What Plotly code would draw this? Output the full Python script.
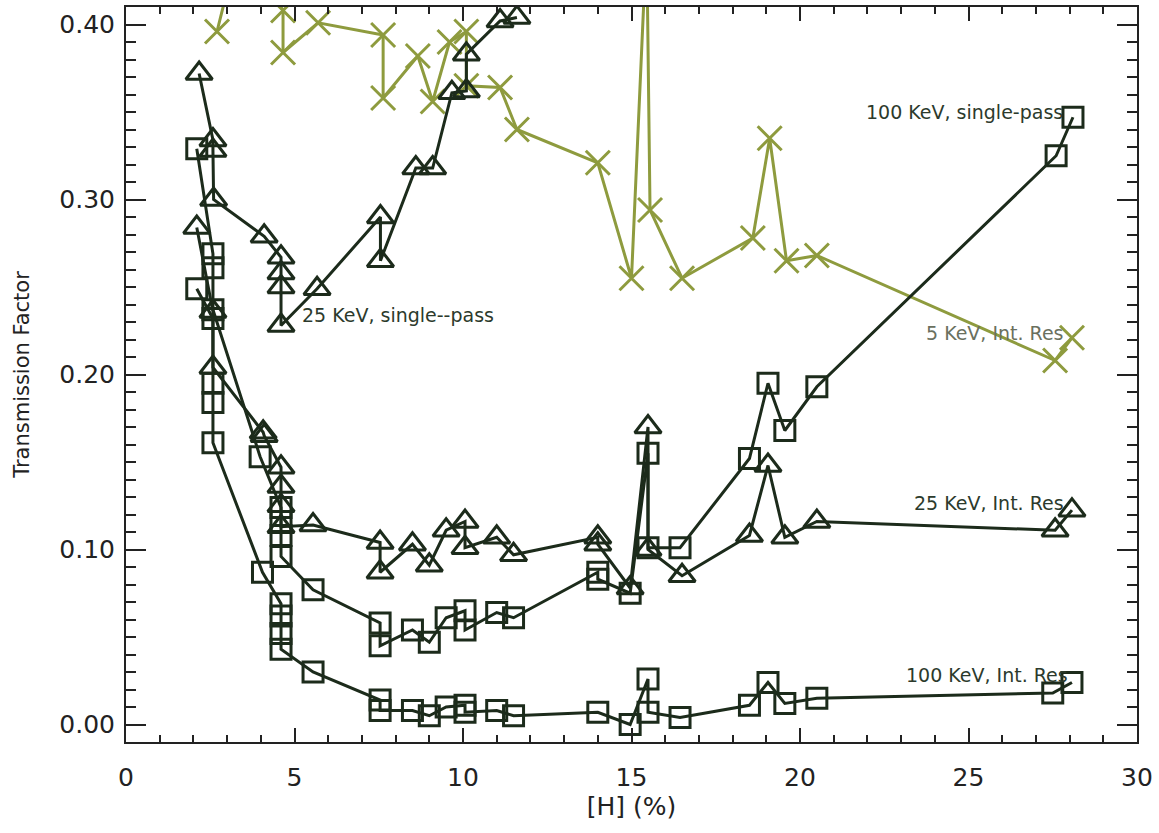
import plotly.graph_objects as go

# ---------------- data ----------------
# 100 KeV, single-pass (open squares, middle curve)
sp100_x = [2.1, 2.58, 2.58, 2.58, 3.98, 4.6, 4.6, 4.6, 4.6, 5.55, 7.54, 7.54, 8.5, 9.0, 9.5,
           10.06, 10.06, 11.0, 11.5, 14.0, 14.0, 14.96, 15.49, 15.49, 16.44, 18.5, 19.05,
           19.55, 20.5, 27.6, 28.1]
sp100_y = [0.329, 0.269, 0.261, 0.237, 0.153, 0.124, 0.116, 0.108, 0.096, 0.077, 0.058,
           0.045, 0.054, 0.047, 0.061, 0.065, 0.054, 0.064, 0.061, 0.087, 0.083, 0.075,
           0.155, 0.101, 0.101, 0.152, 0.195, 0.168, 0.193, 0.325, 0.347]

# 100 KeV, Int. Res (open squares, bottom curve)
ir100_x = [2.1, 2.58, 2.58, 2.58, 2.58, 4.05, 4.6, 4.6, 4.6, 4.6, 5.55, 7.54, 7.54, 8.5,
           9.0, 9.5, 10.06, 10.06, 11.0, 11.5, 14.0, 14.96, 15.49, 15.49, 16.44, 18.5,
           19.05, 19.55, 20.5, 27.5, 28.07]
ir100_y = [0.249, 0.232, 0.195, 0.184, 0.161, 0.087, 0.069, 0.062, 0.052, 0.043, 0.030,
           0.014, 0.008, 0.008, 0.005, 0.010, 0.011, 0.007, 0.008, 0.005, 0.007, 0.000,
           0.026, 0.007, 0.004, 0.011, 0.024, 0.012, 0.015, 0.018, 0.024]

# 25 KeV, single-pass (open triangles, rising curve)
sp25_x = [2.17, 2.58, 2.58, 2.6, 4.1, 4.6, 4.6, 4.6, 4.6, 5.67, 7.55, 7.55, 8.6, 9.1,
          9.67, 10.1, 10.1, 11.1, 11.6]
sp25_y = [0.372, 0.334, 0.328, 0.300, 0.279, 0.267, 0.258, 0.250, 0.228, 0.249, 0.290,
          0.265, 0.318, 0.318, 0.361, 0.362, 0.383, 0.402, 0.404]

# 25 KeV, Int. Res (open triangles, ~0.11 curve)
ir25_x = [2.1, 2.58, 2.58, 4.07, 4.1, 4.6, 4.6, 4.6, 4.6, 5.55, 7.54, 7.54, 8.5, 9.0, 9.5,
          10.06, 10.06, 11.0, 11.5, 14.0, 14.0, 14.96, 15.49, 15.49, 16.5, 18.5, 19.05,
          19.55, 20.5, 27.57, 28.07]
ir25_y = [0.284, 0.236, 0.204, 0.167, 0.165, 0.147, 0.136, 0.125, 0.113, 0.114, 0.104,
          0.087, 0.103, 0.091, 0.111, 0.116, 0.101, 0.107, 0.097, 0.107, 0.103, 0.078,
          0.170, 0.100, 0.085, 0.108, 0.148, 0.107, 0.116, 0.111, 0.1225]

# 5 KeV, Int. Res (crosses, olive)
ir5_x = [2.7, 3.4, 4.66, 4.66, 5.7, 7.63, 7.63, 8.66, 9.1, 9.6, 10.1, 10.1, 11.1, 11.6,
         14.0, 15.0, 15.45, 15.55, 16.5, 18.6, 19.1, 19.6, 20.5, 27.57, 28.07]
ir5_y = [0.396, 0.45, 0.408, 0.384, 0.401, 0.394, 0.358, 0.382, 0.356, 0.390, 0.396,
         0.365, 0.364, 0.340, 0.321, 0.255, 0.45, 0.294, 0.255, 0.278, 0.335, 0.265,
         0.268, 0.208, 0.221]

x_ticks = [0, 5, 10, 15, 20, 25, 30]
y_ticks = [0.0, 0.1, 0.2, 0.3, 0.4]
y_ticktext = ["0.00", "0.10", "0.20", "0.30", "0.40"]

labels = ["100 KeV, single-pass", "25 KeV, single--pass", "5 KeV, Int. Res",
          "25 KeV, Int. Res", "100 KeV, Int. Res"]

# ---------------- styling ----------------
DARK = "#1c2b1b"
OLIVE = "#8e9b3e"
AXIS = "#222222"
FONT = "DejaVu Sans"

fig = go.Figure()

def add_series(x, y, symbol, color, size, name):
    fig.add_trace(go.Scatter(
        x=x, y=y, mode="lines+markers", name=name,
        line=dict(color=color, width=3),
        marker=dict(symbol=symbol, size=size, color=color,
                    line=dict(color=color, width=3)),
        showlegend=False,
    ))

add_series(ir5_x, ir5_y, "x-thin-open", OLIVE, 24, "5 KeV, Int. Res")
add_series(sp25_x, sp25_y, "triangle-up-open", DARK, 23, "25 KeV, single-pass")
add_series(ir25_x, ir25_y, "triangle-up-open", DARK, 23, "25 KeV, Int. Res")
add_series(sp100_x, sp100_y, "square-open", DARK, 20, "100 KeV, single-pass")
add_series(ir100_x, ir100_y, "square-open", DARK, 20, "100 KeV, Int. Res")

ann_font = dict(family=FONT, size=19, color="#2c3a2c")
fig.add_annotation(x=27.85, y=0.350, text=labels[0], showarrow=False,
                   xanchor="right", yanchor="middle", font=ann_font)
fig.add_annotation(x=5.16, y=0.234, text=labels[1], showarrow=False,
                   xanchor="left", yanchor="middle", font=ann_font)
fig.add_annotation(x=27.9, y=0.224, text=labels[2], showarrow=False,
                   xanchor="right", yanchor="middle",
                   font=dict(family=FONT, size=19, color="#6a705e"))
fig.add_annotation(x=27.9, y=0.1266, text=labels[3], showarrow=False,
                   xanchor="right", yanchor="middle", font=ann_font)
fig.add_annotation(x=28.0, y=0.0283, text=labels[4], showarrow=False,
                   xanchor="right", yanchor="middle", font=ann_font)

fig.update_layout(
    width=1159, height=833,
    margin=dict(l=126, r=22, t=7, b=91, autoexpand=False),
    paper_bgcolor="white", plot_bgcolor="white",
    font=dict(family=FONT, color="#222222"),
    xaxis=dict(
        range=[0, 30], tickmode="array", tickvals=x_ticks,
        ticks="inside", ticklen=14, tickwidth=2, tickcolor=AXIS,
        showline=True, linewidth=2, linecolor=AXIS, mirror="allticks",
        showgrid=False, zeroline=False,
        minor=dict(tickmode="linear", tick0=0, dtick=1, ticks="inside",
                   ticklen=7, tickwidth=1.5, tickcolor=AXIS, showgrid=False),
        tickfont=dict(family=FONT, size=25, color="#222222"),
        ticklabelstandoff=12,
        title=dict(text="[H] (%)", font=dict(family=FONT, size=25, color="#222222"),
                   standoff=6),
    ),
    yaxis=dict(
        range=[-0.01, 0.41], tickmode="array", tickvals=y_ticks, ticktext=y_ticktext,
        ticks="inside", ticklen=20, tickwidth=2, tickcolor=AXIS,
        showline=True, linewidth=2, linecolor=AXIS, mirror="allticks",
        showgrid=False, zeroline=False,
        minor=dict(tickmode="linear", tick0=0, dtick=0.01, ticks="inside",
                   ticklen=10, tickwidth=1.5, tickcolor=AXIS, showgrid=False),
        tickfont=dict(family=FONT, size=25, color="#222222"),
        ticklabelstandoff=4,
        title=dict(text="Transmission Factor",
                   font=dict(family=FONT, size=21, color="#222222"), standoff=24),
    ),
)

fig.write_html("out.html",
               config={"displayModeBar": False},
               post_script="document.body.style.margin='0';"
                           "document.body.style.overflow='hidden';")
